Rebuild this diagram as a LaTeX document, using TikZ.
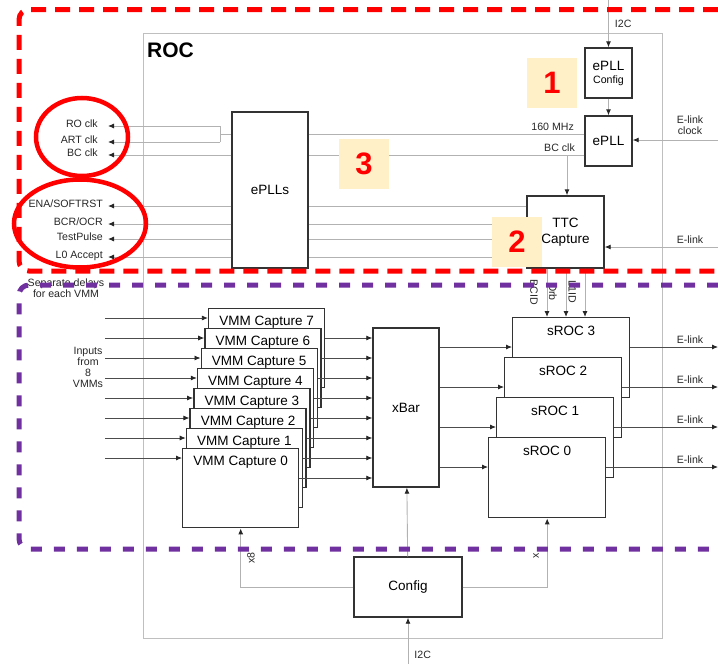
\documentclass[tikz,border=0pt]{standalone}
\usepackage{fontspec}
\setmainfont{Liberation Sans}
\usepackage{xcolor}
\usetikzlibrary{arrows.meta, positioning}

\definecolor{rocred}{HTML}{FF0000}
\definecolor{rocpurple}{HTML}{7030A0}
\definecolor{tagfill}{HTML}{FFF0C8}

\begin{document}
\begin{tikzpicture}[
    x=1pt, y=-1pt,
    font=\fontsize{13.5}{16}\selectfont,
    block/.style={rectangle, draw=black!80, line width=1.4pt, fill=white, align=center, inner sep=0pt},
    sig/.style={font=\fontsize{10.6}{13}\selectfont, inner sep=1pt, align=center, text=black!85},
    lsig/.style={sig, anchor=base east, inner xsep=10pt},
    wire/.style={draw=black!30, line width=0.9pt},
    arrow/.style={wire, -{Latex[length=6pt, width=5pt, color=black!85]}},
    darrow/.style={draw=black!70, line width=0.8pt, -{Latex[length=6pt, width=5pt, color=black!85]}},
    tag/.style={fill=tagfill, minimum size=50pt, inner sep=0pt, text=rocred, font=\bfseries\fontsize{31}{31}\selectfont},
    ring/.style={draw=rocred, line width=4.5pt},
    redframe/.style={draw=rocred, line width=5pt, dash pattern=on 15pt off 9pt, rounded corners=10pt},
    purpleframe/.style={draw=rocpurple, line width=5pt, dash pattern=on 11pt off 12pt, rounded corners=10pt}
]
    \useasboundingbox (0,0) rectangle (718,664);

    % ROC outline
    \draw[draw=black!25, line width=1pt] (143,33) rectangle (662,638);
    \node[anchor=west, inner sep=0pt, font=\bfseries\fontsize{21}{24}\selectfont] (roctitle) at (147,50) {ROC};

    % clocking / TTC part
    \node[block, minimum width=76pt, minimum height=156pt] (eplls) at (270,190) {ePLLs};
    \node[block, minimum width=47pt, minimum height=50pt] (epllcfg) at (608.5,73) {ePLL\\[-3pt]{\fontsize{10.6}{12}\selectfont Config}};
    \node[block, minimum width=47pt, minimum height=50pt] (epll) at (608.5,141) {ePLL};
    \node[block, minimum width=77pt, minimum height=72pt] (ttc) at (565.5,232) {TTC\\Capture};

    \node[lsig] (lro) at (108,127) {RO clk};
    \node[lsig] (lart) at (108,143) {ART clk};
    \node[lsig] (lbc) at (108,156) {BC clk};

    \coordinate (bro) at (220,126);
    \coordinate (bart) at (220,142);
    \coordinate (bmid) at (220,134);
    \draw[wire] (bro) -- (bart);
    \draw[wire] (bmid) -- (bmid -| eplls.west);
    \draw[arrow] (bro) -- (bro -| lro.east);
    \draw[arrow] (bart) -- (bart -| lart.east);
    \draw[arrow] (eplls.west |- 0,155) -- (lbc.east |- 0,155);

    \foreach \name/\txt/\yy in {lena/ENA\slash SOFTRST/206, lbcr/BCR\slash OCR/224, ltp/TestPulse/239, llo/L0 Accept/257} {
        \node[lsig, inner xsep=5pt] (\name) at (108,{\yy+1}) {\txt};
        \draw[wire] (ttc.west |- 0,\yy) -- (eplls.east |- 0,\yy);
        \draw[arrow] (eplls.west |- 0,\yy) -- (\name.east |- 0,\yy);
    }

    \draw[wire] (epll.west |- 0,134) node[sig, above left=2pt and 9pt] (l160) {160 MHz} -- (eplls.east |- 0,134);
    \draw[wire] (epll.west |- 0,155) node[sig, above left=2pt and 8pt] (lbcclk) {BC clk} -- (eplls.east |- 0,155);
    \coordinate (bcdrop) at (567,155);
    \draw[arrow] (bcdrop) -- (bcdrop |- ttc.north);

    \coordinate (i2ctop) at (608.5,0);
    \draw[arrow] (i2ctop) -- node[sig, right=5pt] (li2ctop) {I2C} (epllcfg.north);
    \draw[arrow] (epllcfg) -- (epll);

    \coordinate (elkclk) at (718,140);
    \draw[arrow] (elkclk) node[sig, above=4pt, xshift=-28pt] (lelkclk) {E-link\\[-2pt]clock} -- (elkclk -| epll.east);
    \coordinate (elkttc) at (718,247);
    \draw[arrow] (elkttc) node[sig, above=2pt, xshift=-28pt] (lelkttc) {E-link} -- (elkttc -| ttc.east);

    % readout part
    \node[sig] (ldelay) at (66,288) {Separate delays\\[-2pt]for each VMM};
    \node[sig] (linputs) at (88,367) {Inputs\\[-2pt]from\\[-2pt]8\\[-2pt]VMMs};

    \foreach \k in {7,6,...,0} {
        \pgfmathsetmacro\vx{182+3.7*\k}
        \pgfmathsetmacro\vy{448-20*\k}
        \node[block, minimum width=116pt, minimum height=79pt, anchor=north west] (vmm\k) at (\vx,\vy) {};
        \node[anchor=north, inner sep=0pt] (vmmt\k) at ([yshift=-8pt]vmm\k.north) {VMM Capture \k};
        \coordinate (vin\k) at (105,{\vy+10});
        \draw[darrow] (vin\k) -- (vin\k -| vmm\k.west);
    }

    \node[block, minimum width=66pt, minimum height=159pt] (xbar) at (406,407.5) {xBar};
    \foreach \k in {7,6,...,0}
        \draw[darrow] ([yshift=-30pt]vmm\k.north east) -- ([yshift=-30pt]vmm\k.north east -| xbar.west);

    \foreach \k in {3,2,1,0} {
        \pgfmathsetmacro\sx{488+8*\k}
        \pgfmathsetmacro\sy{437-40*\k}
        \node[block, minimum width=117pt, minimum height=80pt, anchor=north west] (sroc\k) at (\sx,\sy) {};
        \node[anchor=north, inner sep=0pt] (sroct\k) at ([yshift=-9pt]sroc\k.north) {sROC \k};
    }
    \foreach \k in {3,2,1,0} {
        \pgfmathsetmacro\sy{437-40*\k}
        \coordinate (elout\k) at (718,{\sy+30});
        \draw[darrow] ([yshift=-30pt]sroc\k.north west -| xbar.east) -- ([yshift=-30pt]sroc\k.north west);
        \draw[darrow] ([yshift=-30pt]sroc\k.north east) -- (elout\k) node[sig, pos=1, above=2pt, xshift=-28pt] (lelout\k) {E-link};
    }

    \foreach \xx/\lab in {547/BCID, 566/Orb, 585/L1ID} {
        \draw[arrow] (ttc.south -| \xx,0) -- (sroc3.north -| \xx,0);
        \node[sig, rotate=-90, anchor=north] (l\lab) at (\xx-8,292) {\lab};
    }

    \node[block, minimum width=108pt, minimum height=60pt] (config) at (408,587) {Config};
    \draw[arrow] (config) -- (xbar);
    \coordinate (i2cbot) at (408,664);
    \draw[arrow] (i2cbot) -- (config.south) node[sig, pos=0.2, right=5pt] (li2cbot) {I2C};
    \draw[arrow] (config.west) -| (vmm0.south) node[sig, pos=0.75, rotate=90, anchor=north, inner ysep=6pt] (lx8) {x8};
    \draw[arrow] (config.east) -| (sroc0.south) node[sig, pos=0.73, rotate=90, anchor=south, inner ysep=8pt] (lx) {x};

    % markers
    \node[tag] (tag1) at (552,83) {1};
    \node[tag] (tag3) at (364,163.5) {3};
    \node[tag] (tag2) at (517,241.5) {2};

    \draw[ring] (82,137) ellipse [x radius=46pt, y radius=39pt];
    \draw[ring] (80,223.5) ellipse [x radius=66pt, y radius=44pt];

    \draw[redframe] (718,9.5) -- (19,9.5) -- (19,271) -- (718,271);
    \draw[purpleframe] (718,285) -- (19,285) -- (19,549) -- (718,549);
\end{tikzpicture}
\end{document}
